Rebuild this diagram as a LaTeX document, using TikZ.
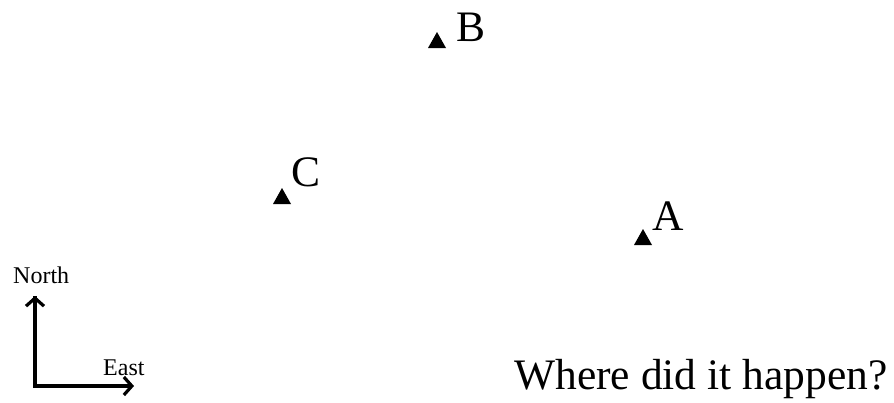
\documentclass[tikz,border=0pt]{standalone}
\usepackage{fontspec}
\setmainfont{Liberation Serif}
\usetikzlibrary{arrows.meta}
\begin{document}
\begin{tikzpicture}[x=1pt,y=-1pt,
  site/.style={fill=black},
  lbl/.style={anchor=base west,inner sep=0pt,font=\fontsize{43.5}{48}\selectfont},
  axis/.style={line width=3.2pt,line join=miter,-{Straight Barb[length=8pt,width=18pt,line width=3.2pt]}},
  small/.style={anchor=base west,inner sep=0pt,font=\fontsize{24}{28}\selectfont}]
\useasboundingbox (0,0) rectangle (894,402);
% sites
\fill[site] (437,32) -- (446,48) -- (428,48) -- cycle;
\node[lbl] (B) at (456,41) {B};
\fill[site] (282,188) -- (291,204) -- (273,204) -- cycle;
\node[lbl] (C) at (291,186) {C};
\fill[site] (643,229) -- (652,245) -- (634,245) -- cycle;
\node[lbl] (A) at (652,230) {A};
% compass
\coordinate (O) at (35,386);
\coordinate (N) at (35,296);
\coordinate (E) at (134,386);
\draw[axis] (N) |- (E);
\draw[axis] (O) -- (N);
\node[small] (north) at (13,283) {North};
\node[small] (east) at (103,375) {East};
\node[anchor=base west,inner sep=0pt,font=\fontsize{43.5}{48}\selectfont] (q) at (514,389) {Where did it happen?};
\end{tikzpicture}
\end{document}
